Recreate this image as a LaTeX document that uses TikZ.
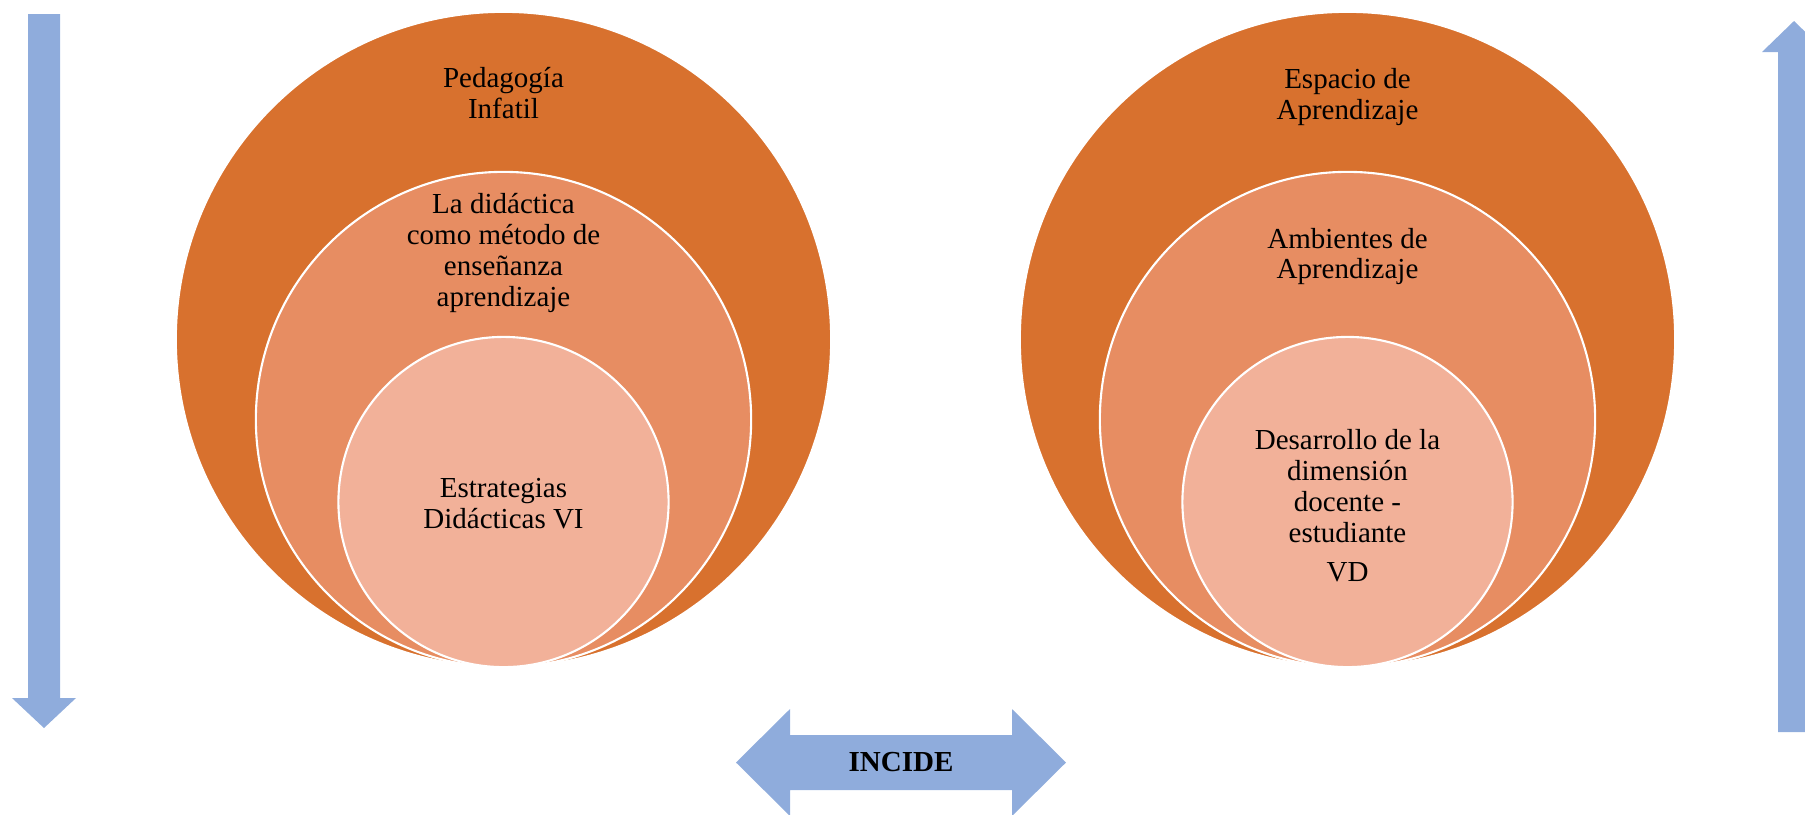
\documentclass[tikz,border=0pt]{standalone}
\usepackage{fontspec}
\setmainfont{Liberation Serif}
\usetikzlibrary{positioning}
\definecolor{outerorange}{HTML}{D8712E}
\definecolor{midorange}{HTML}{E78D62}
\definecolor{innerorange}{HTML}{F2B199}
\definecolor{arrowblue}{HTML}{8FACDC}
\begin{document}
\begin{tikzpicture}[
    x=0.01cm, y=-0.01cm,
    ring/.style={circle, draw=white, line width=0.6pt, inner sep=0pt},
    txt/.style={align=center, inner sep=0pt, font=\fontsize{8.25}{8.8}\selectfont},
    bluearrow/.style={fill=arrowblue}
]
    \useasboundingbox (0,0) rectangle (1805,814);
    \clip (0,0) rectangle (1805,814);

    % Left circles
    \node[ring, fill=outerorange, minimum size=6.55cm] (outL) at (503.5,339.5) {};
    \node[ring, fill=midorange, minimum size=4.95cm] (midL) at (503.5,419.5) {};
    \node[ring, fill=innerorange, minimum size=3.30cm] (inL) at (503.5,502) {};

    % Right circles
    \node[ring, fill=outerorange, minimum size=6.55cm] (outR) at (1347.5,339.5) {};
    \node[ring, fill=midorange, minimum size=4.95cm] (midR) at (1347.5,419.5) {};
    \node[ring, fill=innerorange, minimum size=3.30cm] (inR) at (1347.5,502) {};

    % Texts
    \node[txt] (tOutL) at (503.5,93.5) {Pedagogía\\Infatil};
    \node[txt] (tMidL) at (503.5,253) {La didáctica\\como método de\\enseñanza\\aprendizaje};
    \node[txt] (tInL) at (503.5,503.5) {Estrategias\\Didácticas VI};

    \node[txt] (tOutR) at (1347.5,97) {Espacio de\\Aprendizaje};
    \node[txt] (tMidR) at (1347.5,256.5) {Ambientes de\\Aprendizaje};
    \node[txt] (tInR) at (1347.5,505.5) {Desarrollo de la\\dimensión\\docente -\\estudiante\\[2.3pt]VD};

    % Vertical arrows
    \fill[bluearrow] (28,14) -- (60,14) -- (60,698) -- (76,698) -- (44,728)
        -- (12,698) -- (28,698) -- cycle;
    \fill[bluearrow] (1778,732) -- (1778,52) -- (1762,52) -- (1794,21)
        -- (1826,52) -- (1810,52) -- (1810,732) -- cycle;

    % Double arrow
    \fill[bluearrow] (736,762.5) -- (790,709) -- (790,735) -- (1012,735) -- (1012,709)
        -- (1066,762.5) -- (1012,816) -- (1012,790) -- (790,790) -- (790,816) -- cycle;
    \node[txt, font=\fontsize{8.25}{8.8}\selectfont\bfseries] (incide) at (901,762.5) {INCIDE};
\end{tikzpicture}
\end{document}
